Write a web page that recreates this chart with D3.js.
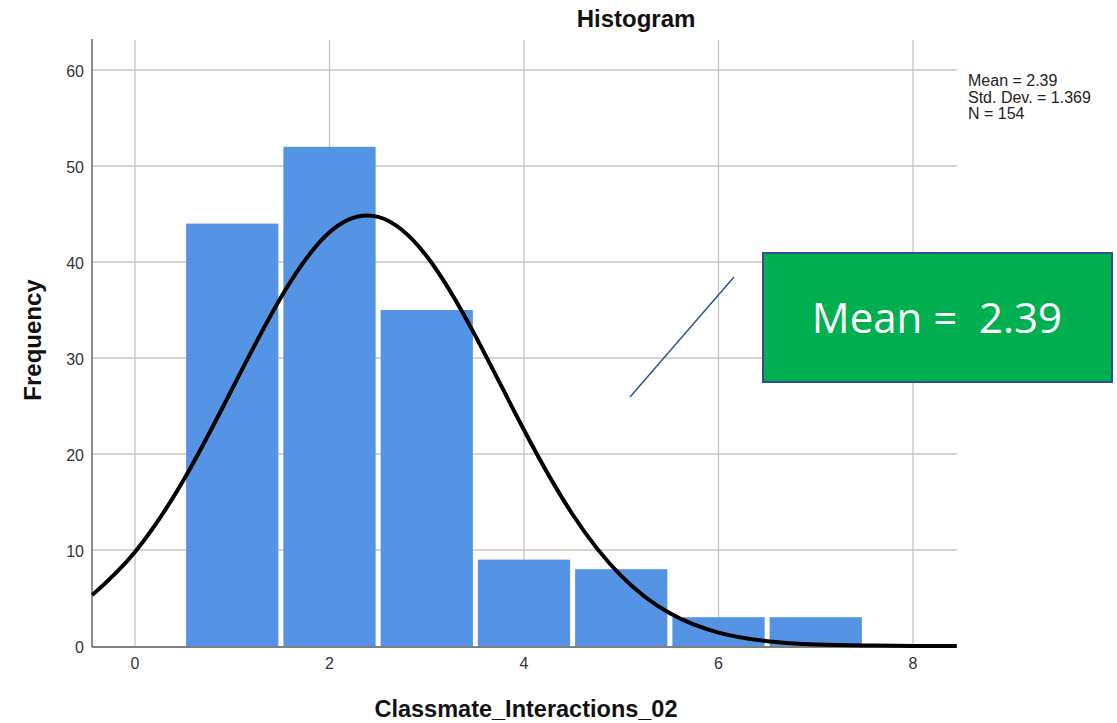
<!DOCTYPE html>
<html>
<head>
<meta charset="utf-8">
<script src="https://cdn.jsdelivr.net/npm/d3@7"></script>
<style>
  body { margin: 0; background: #fff; }
  svg { display: block; }
</style>
</head>
<body>
<script>
// histogram bins (value = bin centre) and their counts
const binCenters = [1, 2, 3, 4, 5, 6, 7];
const counts = [44, 52, 35, 9, 8, 3, 3];
// normal curve
const curveX = [-0.44, 0, 0.5, 1, 1.5, 2, 2.5, 3, 3.5, 4, 4.5, 5, 5.5, 6, 6.5, 7, 7.5, 8, 8.45];
const curveY = [5.3, 9.8, 17.3, 26.8, 36.3, 43.1, 44.7, 40.6, 32.3, 22.5, 13.7, 7.3, 3.4, 1.4, 0.5, 0.15, 0.05, 0.01, 0];
const xTicks = [0, 2, 4, 6, 8];
const yTicks = [0, 10, 20, 30, 40, 50, 60];
const statLines = ['Mean = 2.39', 'Std. Dev. = 1.369', 'N = 154'];
const calloutText = 'Mean =  2.39';

const WIDTH = 1117;
const HEIGHT = 723;
const LEFT = 92, RIGHT = 957, TOP = 39, BOTTOM = 646;
const FONT = 'Liberation Sans, Arial, sans-serif';

let svg = d3.select('body').append('svg')
  .attr('width', WIDTH)
  .attr('height', HEIGHT);

let xScale = d3.scaleLinear().domain([0, 8]).range([135, 913]);
let yScale = d3.scaleLinear().domain([0, 60]).range([BOTTOM, 70]);

// grid
svg.selectAll('line.hgrid')
  .data(yTicks.filter(d => d > 0))
  .enter().append('line')
  .attr('x1', LEFT).attr('x2', RIGHT)
  .attr('y1', d => yScale(d)).attr('y2', d => yScale(d))
  .style('stroke', '#c4c4c4').style('stroke-width', 1.3);

svg.selectAll('line.vgrid')
  .data(xTicks)
  .enter().append('line')
  .attr('x1', d => xScale(d)).attr('x2', d => xScale(d))
  .attr('y1', TOP + 1).attr('y2', BOTTOM)
  .style('stroke', '#c4c4c4').style('stroke-width', 1.3);

// bars, with a white gap between neighbours
const GAP = 2.5;
svg.selectAll('rect.bar')
  .data(binCenters)
  .enter().append('rect')
  .attr('x', d => xScale(d - 0.5) + GAP)
  .attr('y', (d, i) => yScale(counts[i]))
  .attr('width', d => xScale(d + 0.5) - xScale(d - 0.5) - 2 * GAP)
  .attr('height', (d, i) => BOTTOM - yScale(counts[i]))
  .style('fill', '#5594e4');

// axes lines
svg.append('line')
  .attr('x1', LEFT).attr('x2', LEFT).attr('y1', TOP).attr('y2', BOTTOM + 1)
  .style('stroke', '#666').style('stroke-width', 1.5);
svg.append('line')
  .attr('x1', LEFT).attr('x2', RIGHT).attr('y1', BOTTOM + 1).attr('y2', BOTTOM + 1)
  .style('stroke', '#555').style('stroke-width', 1.5);

// normal curve
let line = d3.line()
  .x(d => xScale(d[0]))
  .y(d => yScale(d[1]))
  .curve(d3.curveNatural);

svg.append('path')
  .datum(curveX.map((x, i) => [x, curveY[i]]))
  .attr('d', line)
  .style('fill', 'none')
  .style('stroke', '#000')
  .style('stroke-width', 4);

// tick labels
svg.selectAll('text.ytick')
  .data(yTicks)
  .enter().append('text')
  .text(d => d)
  .attr('x', 84)
  .attr('y', d => yScale(d) + 7)
  .attr('font-family', FONT)
  .attr('font-size', '16px')
  .attr('fill', '#333')
  .style('text-anchor', 'end');

svg.selectAll('text.xtick')
  .data(xTicks)
  .enter().append('text')
  .text(d => d)
  .attr('x', d => xScale(d))
  .attr('y', 669)
  .attr('font-family', FONT)
  .attr('font-size', '16px')
  .attr('fill', '#333')
  .style('text-anchor', 'middle');

// titles
svg.append('text')
  .text('Histogram')
  .attr('x', 636).attr('y', 27)
  .attr('font-family', FONT)
  .attr('font-size', '24px').attr('font-weight', 'bold')
  .attr('fill', '#111')
  .style('text-anchor', 'middle');

svg.append('text')
  .text('Classmate_Interactions_02')
  .attr('x', 526).attr('y', 717)
  .attr('font-family', FONT)
  .attr('font-size', '23.5px').attr('font-weight', 'bold')
  .attr('fill', '#111')
  .style('text-anchor', 'middle');

svg.append('text')
  .text('Frequency')
  .attr('transform', 'translate(41,340) rotate(-90)')
  .attr('font-family', FONT)
  .attr('font-size', '24px').attr('font-weight', 'bold')
  .attr('fill', '#111')
  .style('text-anchor', 'middle');

// stats box
svg.selectAll('text.stat')
  .data(statLines)
  .enter().append('text')
  .text(d => d)
  .attr('x', 968)
  .attr('y', (d, i) => 86 + i * 16.5)
  .attr('font-family', FONT)
  .attr('font-size', '16px')
  .attr('fill', '#222');

// callout
svg.append('line')
  .attr('x1', 630).attr('y1', 397).attr('x2', 734).attr('y2', 277)
  .style('stroke', '#2f5597').style('stroke-width', 1.5);

svg.append('rect')
  .attr('x', 763).attr('y', 253)
  .attr('width', 349).attr('height', 129)
  .style('fill', '#00b050')
  .style('stroke', '#2f528f')
  .style('stroke-width', 2);

svg.append('text')
  .text(calloutText)
  .attr('x', 937).attr('y', 333)
  .attr('font-family', 'Open Sans, sans-serif')
  .attr('font-size', '42px')
  .attr('fill', '#fff')
  .style('text-anchor', 'middle')
  .style('white-space', 'pre');
</script>
</body>
</html>
